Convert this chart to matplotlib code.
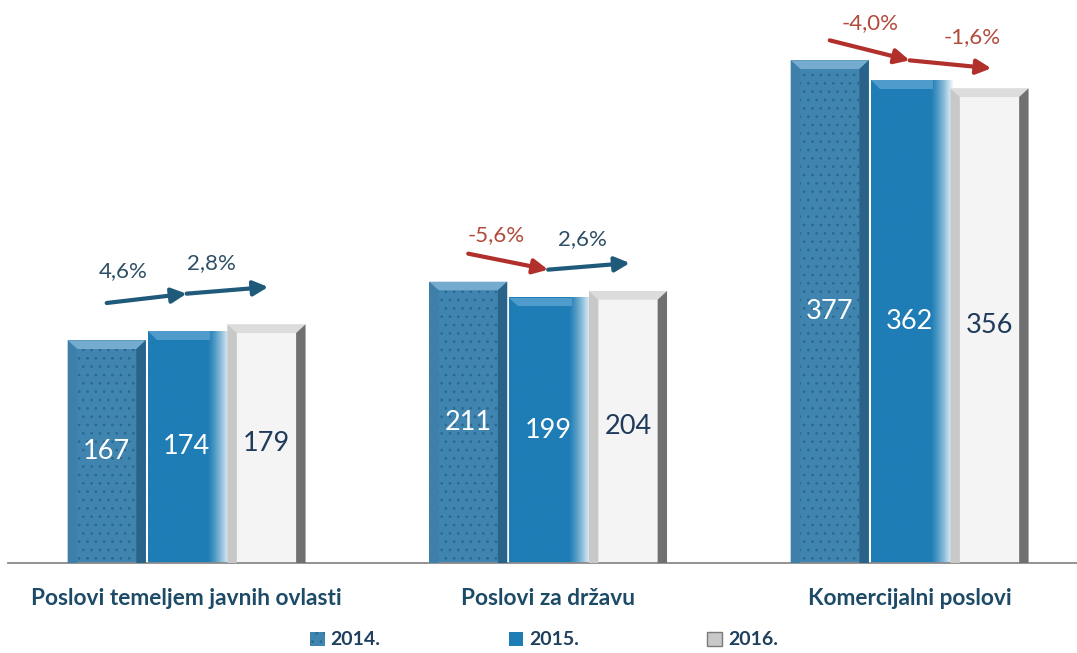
import matplotlib.pyplot as plt
import numpy as np
from matplotlib.patches import Polygon, Rectangle
from matplotlib.colors import to_rgb

plt.rcParams['font.family'] = ['Lato', 'DejaVu Sans']
plt.rcParams['hatch.linewidth'] = 0.7

categories = ['Poslovi temeljem javnih ovlasti', 'Poslovi za državu', 'Komercijalni poslovi']
years = ['2014.', '2015.', '2016.']
v2014 = [167, 211, 377]
v2015 = [174, 199, 362]
v2016 = [179, 204, 356]
chg_14_15 = ['4,6%', '-5,6%', '-4,0%']
chg_15_16 = ['2,8%', '2,6%', '-1,6%']

BLUE_ARROW = '#1f5a7a'
RED_ARROW = '#b2302b'
LABEL_DARK = '#1d4a66'

fig = plt.figure(figsize=(10.77, 6.53), dpi=100)
ax = fig.add_axes([8 / 1077, 90 / 653, 1 - 8 / 1077, 560 / 653])

x = np.arange(len(categories))
pitch = 0.221
width = 0.216
bw_x = 0.026   # bevel width in x units
bw_y = 6.5     # bevel height in value units


def bevel(ax, x0, h, top_col, left_col, right_col):
    x1 = x0 + width
    ax.add_patch(Polygon([[x0, h], [x1, h], [x1 - bw_x, h - bw_y], [x0 + bw_x, h - bw_y]],
                         closed=True, facecolor=top_col, edgecolor='none', zorder=3))
    ax.add_patch(Polygon([[x0, 0], [x0, h], [x0 + bw_x, h - bw_y], [x0 + bw_x, 0]],
                         closed=True, facecolor=left_col, edgecolor='none', zorder=3))
    ax.add_patch(Polygon([[x1, 0], [x1, h], [x1 - bw_x, h - bw_y], [x1 - bw_x, 0]],
                         closed=True, facecolor=right_col, edgecolor='none', zorder=3))


# 2014 - dotted blue
b14 = ax.bar(x - pitch, v2014, width, color='#3f85b0', edgecolor='#2c6890',
             linewidth=0, hatch='..', zorder=2)
for r in b14:
    bevel(ax, r.get_x(), r.get_height(), '#74abcf', '#3f80aa', '#2a6389')

# 2015 - solid blue fading to white on the right
b15 = ax.bar(x, v2015, width, color='#1f7db6', linewidth=0, zorder=2)
c0 = np.array(to_rgb('#1f7db6'))
grad = np.linspace(0, 1, 200)
fade = np.clip((grad - 0.72) / 0.28, 0, 1) ** 1.3
row = c0[None, :] * (1 - fade[:, None]) + np.ones(3)[None, :] * fade[:, None]
img = np.repeat(row[None, :, :], 2, axis=0)
for r in b15:
    x0, h = r.get_x(), r.get_height()
    ax.imshow(img, extent=[x0, x0 + width * 1.06, 0, h], aspect='auto', zorder=2.5,
              interpolation='bilinear')
    ax.add_patch(Polygon([[x0, h], [x0 + width * 0.8, h], [x0 + width * 0.8, h - bw_y],
                          [x0 + bw_x, h - bw_y]],
                         closed=True, facecolor='#4f9bcb', edgecolor='none', zorder=3))

# 2016 - white with grey bevel
b16 = ax.bar(x + pitch, v2016, width, color='#f4f4f4', linewidth=0, zorder=2)
for r in b16:
    bevel(ax, r.get_x(), r.get_height(), '#dcdcdc', '#c8c8c8', '#707070')

# value labels
for bars, col in [(b14, 'white'), (b15, 'white'), (b16, '#1f3a5a')]:
    for r in bars:
        ax.text(r.get_x() + width / 2, r.get_height() / 2, str(int(r.get_height())),
                ha='center', va='center', fontsize=19.5, color=col, zorder=5)

# change arrows
gap = [28, 21, 15]
dx1 = [-23, -12, 0]
dx2 = [-16, -7, 22]
for i in range(len(categories)):
    pts = [(x[i] - pitch, v2014[i] + gap[i]),
           (x[i], v2015[i] + gap[i]),
           (x[i] + pitch + 0.005, v2016[i] + gap[i])]
    for j, (lab, dx) in enumerate([(chg_14_15[i], dx1[i]), (chg_15_16[i], dx2[i])]):
        neg = lab.startswith('-')
        col = RED_ARROW if neg else BLUE_ARROW
        ax.annotate('', xy=pts[j + 1], xytext=pts[j],
                    arrowprops=dict(arrowstyle='-|>', lw=3, color=col,
                                    mutation_scale=22, shrinkA=0, shrinkB=0), zorder=6)
        mx = (pts[j][0] + pts[j + 1][0]) / 2
        my = (pts[j][1] + pts[j + 1][1]) / 2
        ax.annotate(lab, xy=(mx, my), xytext=(dx, 27), textcoords='offset pixels',
                    ha='center', va='center', fontsize=16,
                    color='#b24a3c' if neg else '#2d4f66', zorder=6)

ax.set_xlim(-0.494, 2.463)
ax.set_ylim(0, 420)
ax.set_xticks(x)
ax.set_xticklabels(categories, fontsize=16.3, fontweight='bold', color=LABEL_DARK)
ax.tick_params(axis='x', length=0, pad=18)
ax.set_yticks([])
for s in ['top', 'left', 'right']:
    ax.spines[s].set_visible(False)
ax.spines['bottom'].set_color('#8a8a8a')
ax.spines['bottom'].set_linewidth(1.3)

handles = [Rectangle((0, 0), 1, 1, facecolor='#3f85b0', edgecolor='#2c6890', hatch='..', linewidth=0),
           Rectangle((0, 0), 1, 1, facecolor='#1f7db6', linewidth=0),
           Rectangle((0, 0), 1, 1, facecolor='#c8c8c8', edgecolor='#7a7a7a', linewidth=1)]
fig.legend(handles, years, loc='center', bbox_to_anchor=(0.505, 0.02), ncol=3, frameon=False,
           handlelength=0.75, handleheight=0.75, handletextpad=0.3, columnspacing=6.6,
           prop=dict(size=14, weight='bold'), labelcolor='#1f3f5e')

fig.savefig('out.png', dpi=100)
